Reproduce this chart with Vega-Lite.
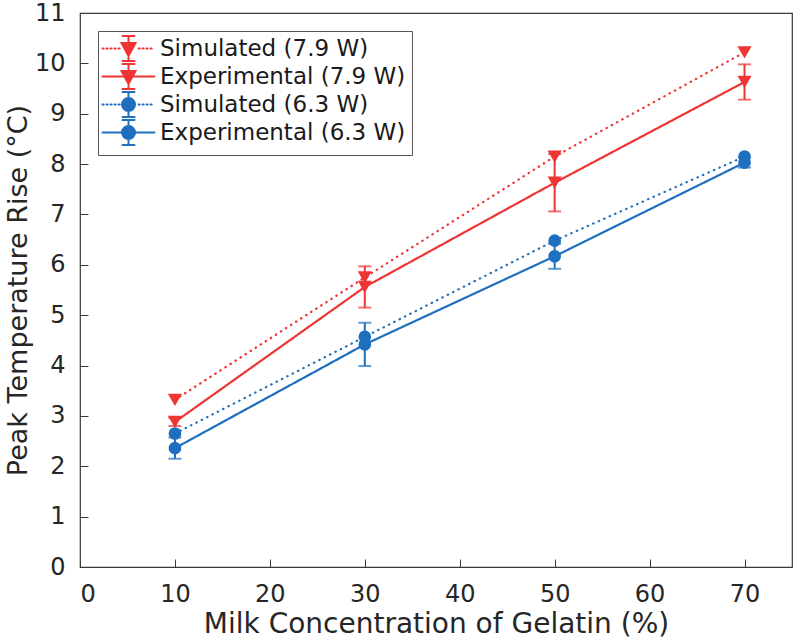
{
  "$schema": "https://vega.github.io/schema/vega-lite/v6.json",
  "width": 712,
  "height": 554,
  "autosize": "none",
  "padding": {"left": 80, "top": 13, "right": 8, "bottom": 73},
  "background": "white",
  "config": {
    "view": {"stroke": "#3a3a3a", "strokeWidth": 1.2},
    "font": "DejaVu Sans",
    "axis": {
      "labelFont": "DejaVu Sans", "titleFont": "DejaVu Sans",
      "labelFontSize": 24, "titleFontSize": 28,
      "labelColor": "#262626", "titleColor": "#262626",
      "titleFontWeight": "normal",
      "domain": false, "grid": false,
      "tickColor": "#3a3a3a", "tickSize": -8, "tickWidth": 1
    }
  },
  "data": {"values": [
    {"conc": 10, "series": "Simulated (7.9 W)", "kind": "Simulated", "power": "7.9 W", "rise": 3.32, "lo": null, "hi": null},
    {"conc": 30, "series": "Simulated (7.9 W)", "kind": "Simulated", "power": "7.9 W", "rise": 5.75, "lo": null, "hi": null},
    {"conc": 50, "series": "Simulated (7.9 W)", "kind": "Simulated", "power": "7.9 W", "rise": 8.15, "lo": null, "hi": null},
    {"conc": 70, "series": "Simulated (7.9 W)", "kind": "Simulated", "power": "7.9 W", "rise": 10.22, "lo": null, "hi": null},
    {"conc": 10, "series": "Experimental (7.9 W)", "kind": "Experimental", "power": "7.9 W", "rise": 2.88, "lo": 2.8, "hi": 2.96},
    {"conc": 30, "series": "Experimental (7.9 W)", "kind": "Experimental", "power": "7.9 W", "rise": 5.56, "lo": 5.15, "hi": 5.97},
    {"conc": 50, "series": "Experimental (7.9 W)", "kind": "Experimental", "power": "7.9 W", "rise": 7.63, "lo": 7.06, "hi": 8.2},
    {"conc": 70, "series": "Experimental (7.9 W)", "kind": "Experimental", "power": "7.9 W", "rise": 9.63, "lo": 9.28, "hi": 9.98},
    {"conc": 10, "series": "Simulated (6.3 W)", "kind": "Simulated", "power": "6.3 W", "rise": 2.65, "lo": null, "hi": null},
    {"conc": 30, "series": "Simulated (6.3 W)", "kind": "Simulated", "power": "6.3 W", "rise": 4.57, "lo": null, "hi": null},
    {"conc": 50, "series": "Simulated (6.3 W)", "kind": "Simulated", "power": "6.3 W", "rise": 6.48, "lo": null, "hi": null},
    {"conc": 70, "series": "Simulated (6.3 W)", "kind": "Simulated", "power": "6.3 W", "rise": 8.15, "lo": null, "hi": null},
    {"conc": 10, "series": "Experimental (6.3 W)", "kind": "Experimental", "power": "6.3 W", "rise": 2.36, "lo": 2.15, "hi": 2.57},
    {"conc": 30, "series": "Experimental (6.3 W)", "kind": "Experimental", "power": "6.3 W", "rise": 4.42, "lo": 3.99, "hi": 4.85},
    {"conc": 50, "series": "Experimental (6.3 W)", "kind": "Experimental", "power": "6.3 W", "rise": 6.17, "lo": 5.92, "hi": 6.42},
    {"conc": 70, "series": "Experimental (6.3 W)", "kind": "Experimental", "power": "6.3 W", "rise": 8.03, "lo": 7.93, "hi": 8.13}
  ]},
  "encoding": {
    "x": {"field": "conc", "type": "quantitative",
      "scale": {"domain": [0, 75], "nice": false, "zero": false},
      "axis": {"values": [0, 10, 20, 30, 40, 50, 60, 70], "title": "Milk Concentration of Gelatin (%)", "labelPadding": 23, "titlePadding": 4}},
    "y": {"field": "rise", "type": "quantitative",
      "scale": {"domain": [0, 11], "nice": false},
      "axis": {"values": [0, 1, 2, 3, 4, 5, 6, 7, 8, 9, 10, 11], "title": "Peak Temperature Rise (°C)", "labelPadding": 23, "titlePadding": 2, "titleFontSize": 27}},
    "color": {"field": "series", "type": "nominal",
      "scale": {"domain": ["Simulated (7.9 W)", "Experimental (7.9 W)", "Simulated (6.3 W)", "Experimental (6.3 W)"],
                "range": ["#EF3434", "#EF3434", "#1F6FBF", "#1F6FBF"]},
      "legend": {
        "title": null, "orient": "top-left", "offset": 18,
        "labelFont": "DejaVu Sans", "labelFontSize": 23, "labelColor": "#1a1a1a", "labelLimit": 500,
        "strokeColor": "#555555", "fillColor": "white", "padding": 6,
        "symbolSize": 400, "symbolStrokeWidth": 2, "symbolOffset": 13, "labelOffset": 20, "rowPadding": -5,
        "encode": {"symbols": {"update": {
          "shape": {"signal": "datum.value == 'Simulated (7.9 W)' ? 'M-2.6,0h0.12M-2.2,0h0.12M-1.8,0h0.12M-1.4,0h0.12M-1.0,0h0.12M1.0,0h0.12M1.4,0h0.12M1.8,0h0.12M2.2,0h0.12M0,-1.25V1.25M-0.6,-1.25H0.6M-0.6,1.25H0.6M-0.7,-0.55L0.7,-0.55L0,0.75Z' : datum.value == 'Experimental (7.9 W)' ? 'M-2.6,0H2.6M0,-1.25V1.25M-0.6,-1.25H0.6M-0.6,1.25H0.6M-0.7,-0.55L0.7,-0.55L0,0.75Z' : datum.value == 'Simulated (6.3 W)' ? 'M-2.6,0h0.12M-2.2,0h0.12M-1.8,0h0.12M-1.4,0h0.12M-1.0,0h0.12M1.0,0h0.12M1.4,0h0.12M1.8,0h0.12M2.2,0h0.12M0,-1.25V1.25M-0.6,-1.25H0.6M-0.6,1.25H0.6M-0.65,0A0.65,0.65 0 1,0 0.65,0A0.65,0.65 0 1,0 -0.65,0Z' : 'M-2.6,0H2.6M0,-1.25V1.25M-0.6,-1.25H0.6M-0.6,1.25H0.6M-0.65,0A0.65,0.65 0 1,0 0.65,0A0.65,0.65 0 1,0 -0.65,0Z'"},
          "fill": {"signal": "indexof(datum.value, '7.9') >= 0 ? '#EF3434' : '#1F6FBF'"},
          "stroke": {"signal": "indexof(datum.value, '7.9') >= 0 ? '#EF3434' : '#1F6FBF'"},
          "strokeWidth": {"value": 2},
          "strokeCap": {"value": "round"},
          "opacity": {"value": 1}
        }}}
      }
    }
  },
  "layer": [
    {
      "mark": {"type": "line", "strokeWidth": 2.2, "strokeCap": "round"},
      "encoding": {
        "strokeDash": {"field": "kind", "type": "nominal", "legend": null,
          "scale": {"domain": ["Simulated", "Experimental"], "range": [[0.5, 5.5], [1, 0]]}}
      }
    },
    {
      "transform": [{"filter": "isValid(datum.lo)"}],
      "mark": {"type": "rule", "strokeWidth": 2},
      "encoding": {
        "y": {"field": "lo", "type": "quantitative"},
        "y2": {"field": "hi"}
      }
    },
    {
      "transform": [{"filter": "isValid(datum.lo)"}],
      "mark": {"type": "tick", "orient": "horizontal", "size": 13, "thickness": 2},
      "encoding": {"y": {"field": "lo", "type": "quantitative"}}
    },
    {
      "transform": [{"filter": "isValid(datum.hi)"}],
      "mark": {"type": "tick", "orient": "horizontal", "size": 13, "thickness": 2},
      "encoding": {"y": {"field": "hi", "type": "quantitative"}}
    },
    {
      "mark": {"type": "point", "filled": true, "opacity": 1},
      "encoding": {
        "shape": {"field": "power", "type": "nominal", "legend": null,
          "scale": {"domain": ["7.9 W", "6.3 W"], "range": ["triangle-down", "circle"]}},
        "size": {"field": "power", "type": "nominal", "legend": null,
          "scale": {"domain": ["7.9 W", "6.3 W"], "range": [200, 160]}}
      }
    }
  ]
}
